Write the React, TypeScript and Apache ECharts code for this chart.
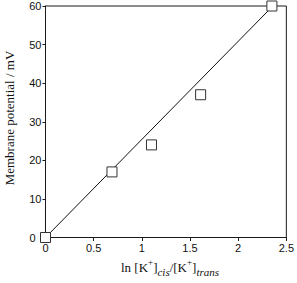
import React, { useEffect, useRef } from "react";
import * as echarts from "echarts";

const xTicks = { min: 0, max: 2.5, interval: 0.5 };
const yTicks = { min: 0, max: 60, interval: 10 };
const lnRatio = [0, 0.69, 1.1, 1.61, 2.35];
const potential = [0, 17, 24, 37, 60];
const fitX = [0, 2.36];
const fitY = [0, 60];

export default function App() {
  const ref = useRef<HTMLDivElement>(null);
  useEffect(() => {
    if (!ref.current) return;
    const chart = echarts.init(ref.current, undefined, { renderer: "svg" });
    const axisCol = "#1a1a1a";
    chart.setOption({
      animation: false,
      grid: {
        left: 45.5,
        right: 9.5,
        top: 6,
        bottom: 45.5,
        show: true,
        borderColor: axisCol,
        borderWidth: 1,
      },
      xAxis: {
        type: "value",
        min: xTicks.min,
        max: xTicks.max,
        interval: xTicks.interval,
        splitLine: { show: false },
        axisLine: { show: true, lineStyle: { color: axisCol, width: 1 } },
        axisTick: { show: true, length: 3.5, lineStyle: { color: axisCol } },
        axisLabel: {
          color: "#111",
          fontFamily: "Liberation Sans",
          fontSize: 11,
          margin: 5,
        },
      },
      yAxis: {
        type: "value",
        min: yTicks.min,
        max: yTicks.max,
        interval: yTicks.interval,
        splitLine: { show: false },
        axisLine: { show: true, lineStyle: { color: axisCol, width: 1 } },
        axisTick: { show: true, length: 3, lineStyle: { color: axisCol } },
        axisLabel: {
          color: "#111",
          fontFamily: "Liberation Sans",
          fontSize: 11,
          margin: 4,
          formatter: (v: number) => (v === 0 ? "{z|0}" : String(v)),
          rich: {
            z: { fontFamily: "Liberation Sans", fontSize: 11, color: "#111", padding: [0, 6, 0, 0] },
          },
        },
      },
      graphic: [
        {
          type: "text",
          x: 9,
          y: 118,
          rotation: Math.PI / 2,
          style: {
            text: "Membrane potential / mV",
            fontFamily: "Liberation Serif",
            fontSize: 13,
            fill: "#111",
            align: "center",
            verticalAlign: "middle",
          },
        },
        {
          type: "text",
          x: 170,
          y: 267,
          style: {
            text: "{n|ln [K}{sup|+}{n|]}{sub|cis}{n|/[K}{sup|+}{n|]}{sub|trans}",
            align: "center",
            verticalAlign: "middle",
            fill: "#111",
            rich: {
              n: { fontFamily: "Liberation Serif", fontSize: 13, lineHeight: 20, verticalAlign: "middle", fill: "#111" },
              sup: { fontFamily: "Liberation Serif", fontSize: 9, lineHeight: 8, verticalAlign: "top", fill: "#111" },
              sub: { fontFamily: "Liberation Serif", fontSize: 11, fontStyle: "italic", lineHeight: 8, verticalAlign: "bottom", fill: "#111" },
            },
          },
        },
      ],
      series: [
        {
          type: "line",
          data: fitX.map((x, i) => [x, fitY[i]]),
          symbol: "none",
          lineStyle: { color: "#111", width: 1 },
          clip: false,
          z: 1,
        },
        {
          type: "scatter",
          data: lnRatio.map((x, i) => [x, potential[i]]),
          symbol: "rect",
          symbolSize: 10,
          itemStyle: { color: "#fff", borderColor: "#333", borderWidth: 1, opacity: 1 },
          clip: false,
          z: 3,
        },
      ],
    });
    return () => chart.dispose();
  }, []);
  return (
    <div
      ref={ref}
      style={{ position: "absolute", left: 0, top: 0, width: 297, height: 283 }}
    />
  );
}
